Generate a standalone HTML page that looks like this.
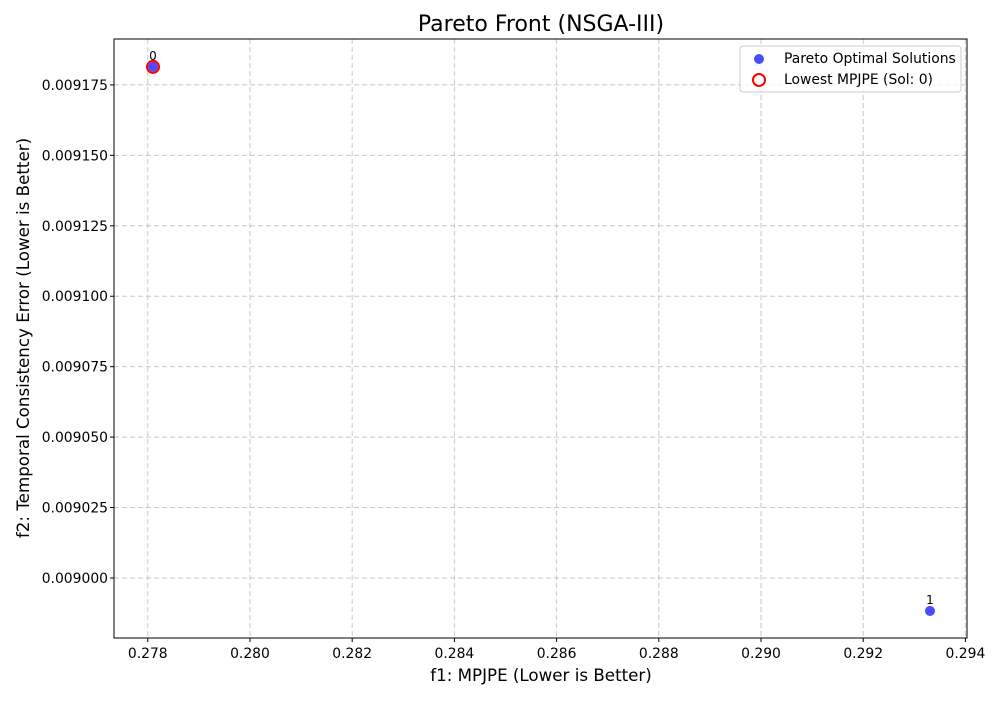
<!DOCTYPE html>
<html><head><meta charset="utf-8"><style>
body{margin:0;background:#fff}
svg text{font-family:"DejaVu Sans","Liberation Sans",sans-serif}
</style></head><body>
<svg id="chart" width="1000" height="700" xmlns="http://www.w3.org/2000/svg">
<rect width="1000" height="700" fill="#fff"/>
<text x="541" y="31" font-size="22" text-anchor="middle">Pareto Front (NSGA-III)</text>
<g id="grid"></g><g id="ticks"></g><g id="marks"></g>
<rect x="114" y="39" width="853" height="599" fill="none" stroke="#000" stroke-width="1"/>
<text x="541" y="681" font-size="16.7" text-anchor="middle">f1: MPJPE (Lower is Better)</text>
<text transform="translate(29,338) rotate(-90)" font-size="16.7" text-anchor="middle">f2: Temporal Consistency Error (Lower is Better)</text>
<g>
<rect x="740" y="46" width="221" height="46" rx="3" fill="#fff" fill-opacity="0.8" stroke="#ccc"/>
<circle cx="759" cy="59" r="5" fill="#0000ff" fill-opacity="0.7"/>
<text x="784" y="63" font-size="13.9">Pareto Optimal Solutions</text>
<circle cx="759" cy="80" r="6" fill="none" stroke="red" stroke-width="2"/>
<text x="784" y="84" font-size="13.9">Lowest MPJPE (Sol: 0)</text>
</g>
</svg>
<script>
const solLabels=["0","1"];
const f1Values=[0.278102,0.293307];
const f2Values=[0.0091814,0.0089883];
const xTicks=[0.278,0.280,0.282,0.284,0.286,0.288,0.290,0.292,0.294];
const yTicks=[0.009000,0.009025,0.009050,0.009075,0.009100,0.009125,0.009150,0.009175];
const bestIndex=0;
const NS="http://www.w3.org/2000/svg";
const L=114,R=967,T=39,B=638;
const x0=0.277339,x1=0.294031,y0=0.0089787,y1=0.0091913;
const sx=v=>L+(v-x0)/(x1-x0)*(R-L);
const sy=v=>B-(v-y0)/(y1-y0)*(B-T);
function mk(tag,attrs,parent){const e=document.createElementNS(NS,tag);for(const k in attrs)e.setAttribute(k,attrs[k]);document.getElementById(parent).appendChild(e);return e;}
xTicks.forEach(t=>{const x=sx(t);
 const g=mk('line',{x1:x,x2:x,y1:T,y2:B,stroke:'#b0b0b0','stroke-dasharray':'5,3','stroke-opacity':0.7},'grid');
 
 
 mk('line',{x1:x,x2:x,y1:B,y2:B+4,stroke:'#000'},'ticks');
 const tx=mk('text',{x:x,y:B+20,'font-size':13.9,'text-anchor':'middle'},'ticks');tx.textContent=t.toFixed(3);
 
 
});
yTicks.forEach(t=>{const y=sy(t);
 const g=mk('line',{x1:L,x2:R,y1:y,y2:y,stroke:'#b0b0b0','stroke-dasharray':'5,3','stroke-opacity':0.7},'grid');
 
 
 mk('line',{x1:L-4,x2:L,y1:y,y2:y,stroke:'#000'},'ticks');
 const tx=mk('text',{x:L-6,y:y+5,'font-size':13.9,'text-anchor':'end'},'ticks');tx.textContent=t.toFixed(6);
 
 
});
f1Values.forEach((v,i)=>{const cx=sx(v),cy=sy(f2Values[i]);
 const c=mk('circle',{cx:cx,cy:cy,r:5,fill:'#0000ff','fill-opacity':0.7},'marks');
 
 
 const t=mk('text',{x:cx,y:cy-7,'font-size':12,'text-anchor':'middle'},'marks');t.textContent=solLabels[i];
 
 
});
{const cx=sx(f1Values[bestIndex]),cy=sy(f2Values[bestIndex]);
 const c=mk('circle',{cx:cx,cy:cy,r:6,fill:'none',stroke:'red','stroke-width':2},'marks');
 
 }
</script>
</body></html>
